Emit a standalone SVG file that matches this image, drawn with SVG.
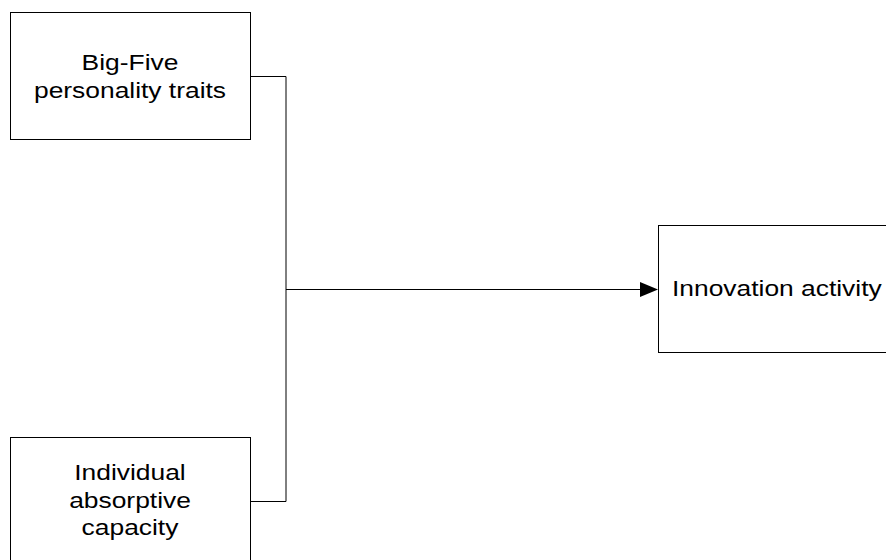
<svg xmlns="http://www.w3.org/2000/svg" width="886" height="560" viewBox="0 0 886 560">
<style>
.box{fill:#fff;stroke:#000;stroke-width:1}
.lbl{font-family:"Liberation Sans",Arial,sans-serif;font-size:22px;fill:#000}
.c{text-anchor:middle}
.conn{fill:none;stroke:#000;stroke-width:1}
</style>
<rect width="886" height="560" fill="#fff"/>
<g id="connectors">
<polyline class="conn" points="250,76.5 286,76.5 286,501.5 250,501.5"/>
<line class="conn" x1="286" y1="289.5" x2="642" y2="289.5"/>
<polygon points="640,282 658,289.5 640,297" fill="#000"/>
</g>
<g id="node-bigfive">
<rect class="box" x="10.5" y="12.5" width="240" height="127"/>
<g transform="translate(130,70) scale(1.2,1)"><text class="lbl c" x="0" y="0">Big-Five</text></g>
<g transform="translate(130,98) scale(1.2,1)"><text class="lbl c" x="0" y="0">personality traits</text></g>
</g>
<g id="node-absorptive">
<rect class="box" x="10.5" y="437.5" width="240" height="140"/>
<g transform="translate(130,480) scale(1.2,1)"><text class="lbl c" x="0" y="0">Individual</text></g>
<g transform="translate(130,507.5) scale(1.2,1)"><text class="lbl c" x="0" y="0">absorptive</text></g>
<g transform="translate(130,535) scale(1.2,1)"><text class="lbl c" x="0" y="0">capacity</text></g>
</g>
<g id="node-innovation">
<rect class="box" x="658.5" y="225.5" width="260" height="127"/>
<g transform="translate(672,296) scale(1.2,1)"><text class="lbl" x="0" y="0">Innovation activity</text></g>
</g>
</svg>
